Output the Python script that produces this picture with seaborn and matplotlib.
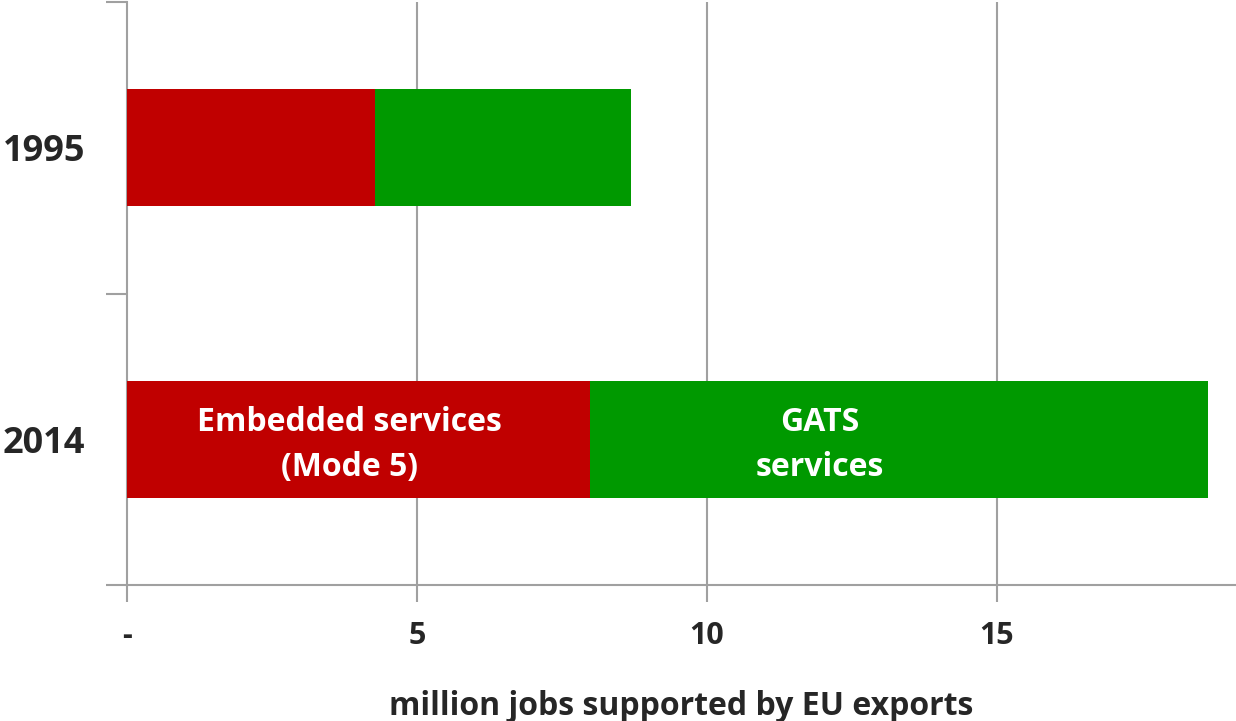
import numpy as np
import pandas as pd
import matplotlib
matplotlib.use("Agg")
import matplotlib.pyplot as plt
import seaborn as sns

# values (million jobs)
years = ['1995', '2014']
embedded = [4.28, 7.98]   # Embedded services (Mode 5)
gats = [4.41, 10.66]      # GATS services
xticks = [0, 5, 10, 15]
xticklabels = ['-', '5', '10', '15']

red = '#C00000'
green = '#009900'
grey = '#A0A0A0'

sns.set_theme(style='white')
plt.rcParams['font.family'] = ['Open Sans', 'DejaVu Sans']

df = pd.DataFrame({'year': years, 'embedded': embedded, 'gats': gats})
df['total'] = df['embedded'] + df['gats']

fig = plt.figure(figsize=(12.36, 7.21), dpi=100)
ax = fig.add_axes([127 / 1236, 1 - 585 / 721, 1 - 127 / 1236, (585 - 2) / 721])

# stacked: total first (green), then the embedded part on top (red)
sns.barplot(data=df, x='total', y='year', color=green, width=0.4, linewidth=0,
            saturation=1, orient='h', ax=ax, zorder=3)
sns.barplot(data=df, x='embedded', y='year', color=red, width=0.4, linewidth=0,
            saturation=1, orient='h', ax=ax, zorder=4)

ax.set_xlim(0, (1236 - 127) / 58)
ax.set_ylim(1.5, -0.5)

ax.set_xticks(xticks)
ax.set_xticklabels(xticklabels, fontsize=22, fontweight='bold')
ax.set_yticks([-0.5, 0.5, 1.5])
ax.set_yticklabels([])
ax.set_yticks([0, 1], minor=True)
ax.set_yticklabels(years, minor=True, fontsize=26, fontweight='bold')
ax.tick_params(axis='y', which='minor', length=0, pad=30)
ax.tick_params(axis='y', which='major', length=15, width=1.5, color=grey, direction='out', left=True)
ax.tick_params(axis='x', length=12, width=1.5, color=grey, direction='out', bottom=True, pad=14)

for x in xticks[1:]:
    ax.axvline(x, color=grey, lw=1.5, zorder=1)

for side in ['top', 'right']:
    ax.spines[side].set_visible(False)
for side in ['left', 'bottom']:
    ax.spines[side].set_color(grey)
    ax.spines[side].set_linewidth(1.5)

ax.set_xlabel('million jobs supported by EU exports', fontsize=23, fontweight='bold', labelpad=28)
ax.set_ylabel('')

ax.text(3.83, 1.02, 'Embedded services\n(Mode 5)', color='white', fontsize=23,
        fontweight='bold', ha='center', va='center', linespacing=1.45, zorder=5)
ax.text(11.95, 1.02, 'GATS\nservices', color='white', fontsize=23,
        fontweight='bold', ha='center', va='center', linespacing=1.45, zorder=5)

fig.savefig('out.png', dpi=100)
